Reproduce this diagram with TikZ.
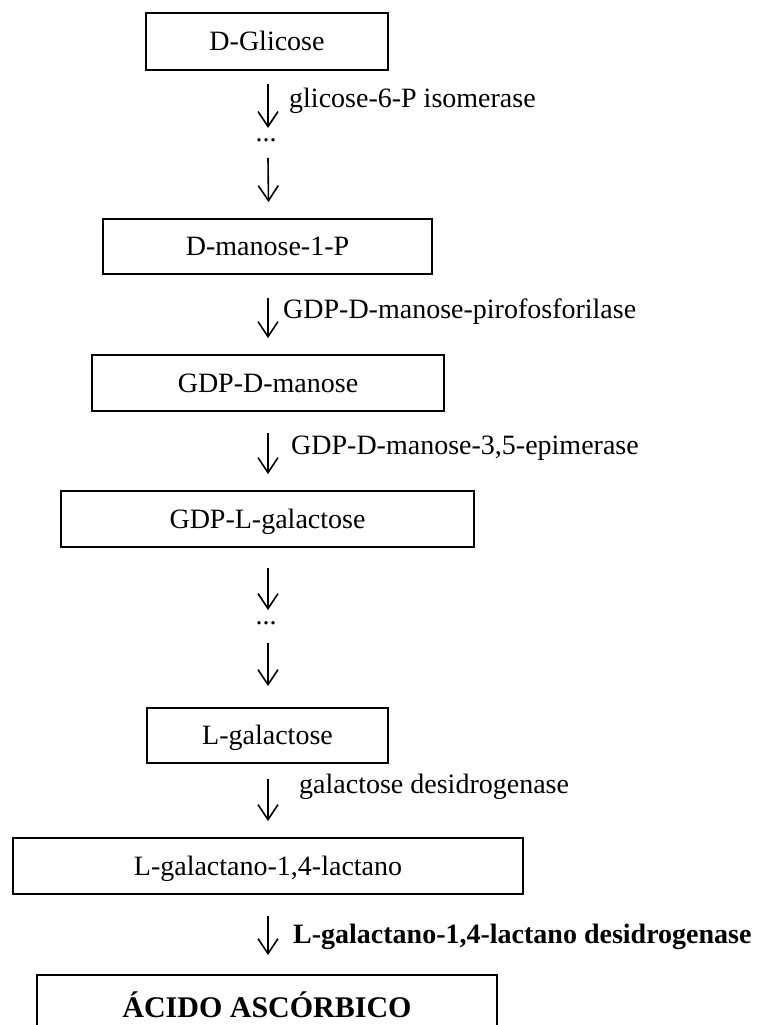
\documentclass[tikz,border=0pt]{standalone}
\usepackage{fontspec}
\setmainfont{Liberation Serif}
\usetikzlibrary{arrows.meta}
\tikzset{
  stepbox/.style={draw, line width=1.9pt, inner sep=0pt, text height=18.5pt, text depth=0pt,
    font=\fontsize{28}{34}\selectfont},
  enz/.style={anchor=base west, inner sep=0pt, font=\fontsize{28}{34}\selectfont},
  dotsnode/.style={inner sep=0pt, text height=3pt, text depth=0pt, font=\fontsize{28}{34}\selectfont},
  arr/.style={line width=1.6pt, -{Straight Barb[length=15pt,width=20pt]}}
}
\begin{document}
\begin{tikzpicture}[x=1pt,y=-1pt]
\useasboundingbox (0,0) rectangle (760,1025);
\clip (0,0) rectangle (760,1025);
\node[stepbox, minimum width=242pt, minimum height=57pt] (b1) at (267,41.5) {D-Glicose};
\node[dotsnode] (d1) at (266,140) {...};
\node[stepbox, minimum width=329pt, minimum height=55pt] (b2) at (267.5,246.5) {D-manose-1-P};
\node[stepbox, minimum width=352pt, minimum height=56pt] (b3) at (268,383) {GDP-D-manose};
\node[stepbox, minimum width=413pt, minimum height=56pt] (b4) at (267.5,519) {GDP-L-galactose};
\node[dotsnode] (d2) at (266,623) {...};
\node[stepbox, minimum width=241pt, minimum height=55pt] (b5) at (267.5,735.5) {L-galactose};
\node[stepbox, minimum width=510pt, minimum height=56pt] (b6) at (268,866) {L-galactano-1,4-lactano};
\node[stepbox, minimum width=460pt, minimum height=64pt, text height=20.3pt,
      font=\fontsize{30}{36}\selectfont\bfseries] (b7) at (267,1007) {ÁCIDO ASCÓRBICO};

\node[enz] (l1) at (289,107) {glicose-6-P isomerase};
\node[enz] (l2) at (283,318) {GDP-D-manose-pirofosforilase};
\node[enz] (l3) at (291,454) {GDP-D-manose-3,5-epimerase};
\node[enz] (l4) at (299,793) {galactose desidrogenase};
\node[enz, font=\fontsize{28}{34}\selectfont\bfseries] (l5) at (293,943) {L-galactano-1,4-lactano desidrogenase};

\draw[arr] ([xshift=1pt,yshift=-13pt]b1.south) -- ([xshift=2pt,yshift=12pt]d1.center);
\draw[arr] ([xshift=2pt,yshift=-18pt]d1.center) -- ([xshift=1pt,yshift=16pt]b2.north);
\draw[arr] ([xshift=0.5pt,yshift=-23pt]b2.south) -- ([yshift=16pt]b3.north);
\draw[arr] ([yshift=-21pt]b3.south) -- ([xshift=0.5pt,yshift=16pt]b4.north);
\draw[arr] ([xshift=0.5pt,yshift=-20pt]b4.south) -- ([xshift=2pt,yshift=13pt]d2.center);
\draw[arr] ([xshift=2pt,yshift=-20pt]d2.center) -- ([xshift=0.5pt,yshift=21pt]b5.north);
\draw[arr] ([xshift=0.5pt,yshift=-15pt]b5.south) -- ([yshift=16pt]b6.north);
\draw[arr] ([yshift=-21pt]b6.south) -- ([xshift=1pt,yshift=19pt]b7.north);
\end{tikzpicture}
\end{document}
